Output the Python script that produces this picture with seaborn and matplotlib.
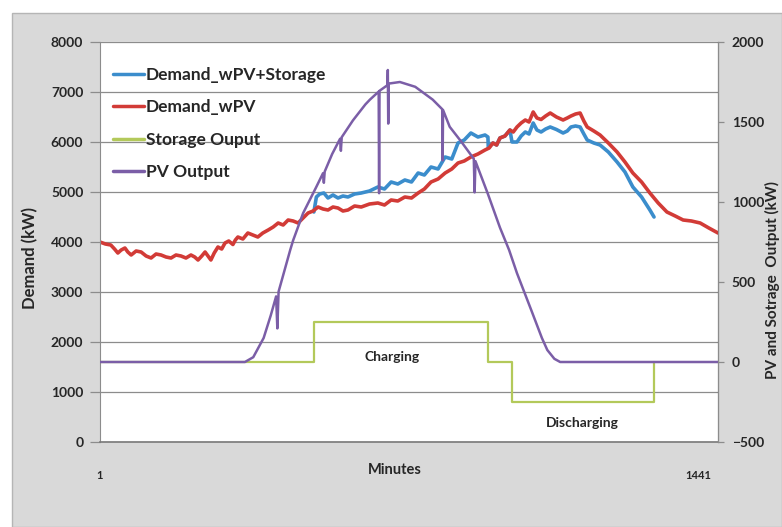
import numpy as np
import pandas as pd
import matplotlib
matplotlib.use("Agg")
import matplotlib.pyplot as plt
import seaborn as sns
from matplotlib.patches import Rectangle

sns.set_style("white")
plt.rcParams['font.family'] = ['Lato', 'DejaVu Sans']
plt.rcParams['font.weight'] = 'bold'

# Demand with PV only (left axis, kW)
red_min = [1, 14, 27, 36, 44, 52, 61, 68, 76, 88,
           100, 112, 124, 136, 148, 160, 172, 184, 196, 208,
           220, 229, 237, 246, 254, 261, 268, 276, 285, 294,
           302, 311, 321, 327, 333, 345, 357, 369, 381, 393,
           406, 418, 430, 442, 454, 466, 478, 490, 502, 514,
           526, 538, 550, 562, 574, 586, 598, 614, 630, 650,
           670, 686, 702, 718, 735, 751, 767, 782, 798, 815,
           832, 848, 863, 878, 894, 911, 928, 938, 947, 956,
           964, 976, 988, 996, 1005, 1015, 1025, 1034, 1044, 1053,
           1063, 1074, 1085, 1100, 1116, 1126, 1135, 1146, 1157, 1166,
           1174, 1190, 1205, 1225, 1246, 1265, 1284, 1305, 1325, 1345,
           1366, 1386, 1405, 1425, 1446, 1467, 1489]
red_kw = [4000, 3960, 3940, 3860, 3780, 3840, 3880, 3800, 3740, 3820,
          3800, 3720, 3680, 3760, 3740, 3700, 3680, 3740, 3720, 3680,
          3740, 3700, 3640, 3720, 3800, 3720, 3640, 3780, 3900, 3860,
          3980, 4020, 3950, 4040, 4100, 4060, 4180, 4140, 4100, 4180,
          4240, 4300, 4380, 4340, 4440, 4420, 4380, 4480, 4580, 4620,
          4700, 4660, 4640, 4700, 4680, 4620, 4640, 4720, 4700, 4760,
          4780, 4740, 4840, 4820, 4900, 4880, 4980, 5060, 5200, 5260,
          5380, 5460, 5580, 5620, 5700, 5760, 5840, 5880, 5980, 5940,
          6080, 6120, 6240, 6200, 6300, 6380, 6440, 6400, 6600, 6480,
          6450, 6520, 6580, 6500, 6440, 6480, 6520, 6560, 6580, 6420,
          6300, 6220, 6140, 5980, 5800, 5600, 5380, 5200, 4980, 4780,
          4600, 4520, 4440, 4420, 4380, 4280, 4180]

# Demand with PV + storage (left axis, kW), visible part
blue_min = [516, 522, 530, 540, 550, 562, 574, 586, 598, 614,
            630, 650, 670, 686, 702, 718, 735, 751, 767, 782,
            798, 815, 832, 848, 863, 878, 894, 911, 928, 935,
            936, 947, 956, 964, 976, 988, 993, 1005, 1015, 1025,
            1034, 1044, 1053, 1063, 1074, 1085, 1100, 1116, 1126, 1135,
            1146, 1157, 1166, 1174, 1190, 1205, 1225, 1246, 1265, 1284,
            1305, 1325, 1335]
blue_kw = [4600, 4900, 4960, 4980, 4880, 4940, 4880, 4920, 4900, 4960,
           4980, 5020, 5100, 5060, 5200, 5160, 5240, 5200, 5380, 5340,
           5500, 5460, 5700, 5660, 5980, 6040, 6180, 6100, 6140, 6100,
           5880, 5980, 5940, 6080, 6120, 6240, 6000, 6000, 6120, 6200,
           6160, 6380, 6240, 6200, 6260, 6300, 6250, 6180, 6220, 6300,
           6320, 6300, 6160, 6040, 5980, 5940, 5800, 5600, 5400, 5100,
           4900, 4640, 4500]

# Storage output (right axis, kW), step changes
storage_min = [1, 516, 935, 993, 1335]
storage_kw = [0, 250, 0, -250, 0]

# PV output (right axis, kW)
pv_min = [1, 350, 370, 395, 412, 425, 428, 431, 445, 459,
          466, 490, 521, 538, 540, 542, 560, 579, 581, 583,
          610, 640, 651, 672, 673, 674, 693, 694, 695, 696,
          723, 760, 802, 825, 826, 827, 843, 870, 901, 903,
          905, 935, 964, 986, 1005, 1040, 1065, 1078, 1095, 1109,
          1489]
pv_kw = [0, 0, 30, 150, 290, 410, 210, 440, 570, 700,
         760, 930, 1090, 1180, 1120, 1190, 1300, 1395, 1320, 1405,
         1510, 1610, 1640, 1690, 1055, 1695, 1730, 1825, 1490, 1740,
         1750, 1720, 1640, 1580, 1260, 1575, 1470, 1380, 1270, 1060,
         1255, 1050, 840, 700, 555, 320, 150, 75, 20, 0,
         0]

x_ticks = [1, 1441]

C_BLUE = "#3b8dcc"
C_RED = "#d23b37"
C_GREEN = "#b3c95a"
C_PURPLE = "#7b5ea7"
TXT = "#262626"

fig = plt.figure(figsize=(7.82, 5.27), dpi=100)
fig.patch.set_facecolor("white")
fig.add_artist(Rectangle((12 / 782, 0), 770 / 782, 514 / 527, transform=fig.transFigure,
                         facecolor="#d9d9d9", edgecolor="#b5b5b5", lw=1, zorder=-10))

ax = fig.add_axes([100 / 782, 85 / 527, 618 / 782, 400 / 527])
ax.set_facecolor("white")
ax2 = ax.twinx()

sns.lineplot(x=blue_min, y=blue_kw, ax=ax, color=C_BLUE, lw=2.6, estimator=None, sort=False,
             label="Demand_wPV+Storage")
sns.lineplot(x=red_min, y=red_kw, ax=ax, color=C_RED, lw=2.6, estimator=None, sort=False,
             label="Demand_wPV")
sns.lineplot(x=storage_min, y=storage_kw, ax=ax2, color=C_GREEN, lw=1.6, estimator=None,
             sort=False, drawstyle="steps-post", label="Storage Ouput")
sns.lineplot(x=pv_min, y=pv_kw, ax=ax2, color=C_PURPLE, lw=1.8, estimator=None, sort=False,
             label="PV Output")

h1, l1 = ax.get_legend_handles_labels()
h2, l2 = ax2.get_legend_handles_labels()
for a in (ax, ax2):
    if a.get_legend() is not None:
        a.get_legend().remove()

ax.set_xlim(1, 1489)
ax.set_ylim(0, 8000)
ax2.set_ylim(-500, 2000)
ax.set_yticks(range(0, 8001, 1000))
ax2.set_yticks(range(-500, 2001, 500))
ax.set_xticks(x_ticks)
ax.set_xticklabels([str(t) for t in x_ticks])

ax.grid(axis="y", color="#8c8c8c", lw=0.9)
ax.grid(axis="x", visible=False)
ax.set_axisbelow(True)

ax.spines["top"].set_visible(False)
ax2.spines["top"].set_visible(False)
ax.spines["left"].set_color("#8c8c8c")
ax.spines["bottom"].set_color("#7a7a7a")
ax.spines["bottom"].set_linewidth(1.2)
ax2.spines["right"].set_color("#8c8c8c")
ax2.spines["left"].set_visible(False)
ax2.spines["bottom"].set_visible(False)

ax.tick_params(axis="y", direction="out", length=7, width=0.9, color="#8c8c8c", pad=5,
               labelsize=10, labelcolor=TXT, left=True)
ax2.tick_params(axis="y", direction="out", length=4, width=0.9, color="#8c8c8c", pad=6,
                labelsize=10, labelcolor=TXT, right=True)
ax.tick_params(axis="x", length=0, pad=20, labelsize=8, labelcolor=TXT)

ax.set_xlabel("Minutes", fontsize=10.5, color=TXT, fontweight="bold")
ax.xaxis.set_label_coords(0.477, -0.07)
ax.xaxis.label.set_va("center")
ax.set_ylabel("Demand (kW)", fontsize=12, color=TXT, fontweight="bold")
ax.yaxis.set_label_coords(-0.113, 0.46)
ax.yaxis.label.set_va("center")
ax2.set_ylabel("PV and Sotrage  Output (kW)", fontsize=11, color=TXT, fontweight="bold")
ax2.yaxis.set_label_coords(1.088, 0.405)
ax2.yaxis.label.set_va("center")

ax.text(704, 1700, "Charging", ha="center", va="center", fontsize=10, color=TXT, fontweight="bold")
ax.text(1162, 380, "Discharging", ha="center", va="center", fontsize=10, color=TXT,
        fontweight="bold")

ax2.legend(h1 + h2, l1 + l2, loc="upper left", bbox_to_anchor=(0.01, 0.955), frameon=False,
           fontsize=12.5, handlelength=1.8, handletextpad=0.1, labelspacing=0.95,
           borderaxespad=0)
for line in ax2.get_legend().get_lines():
    line.set_linewidth(2.5)

fig.savefig("out.png", dpi=100)
